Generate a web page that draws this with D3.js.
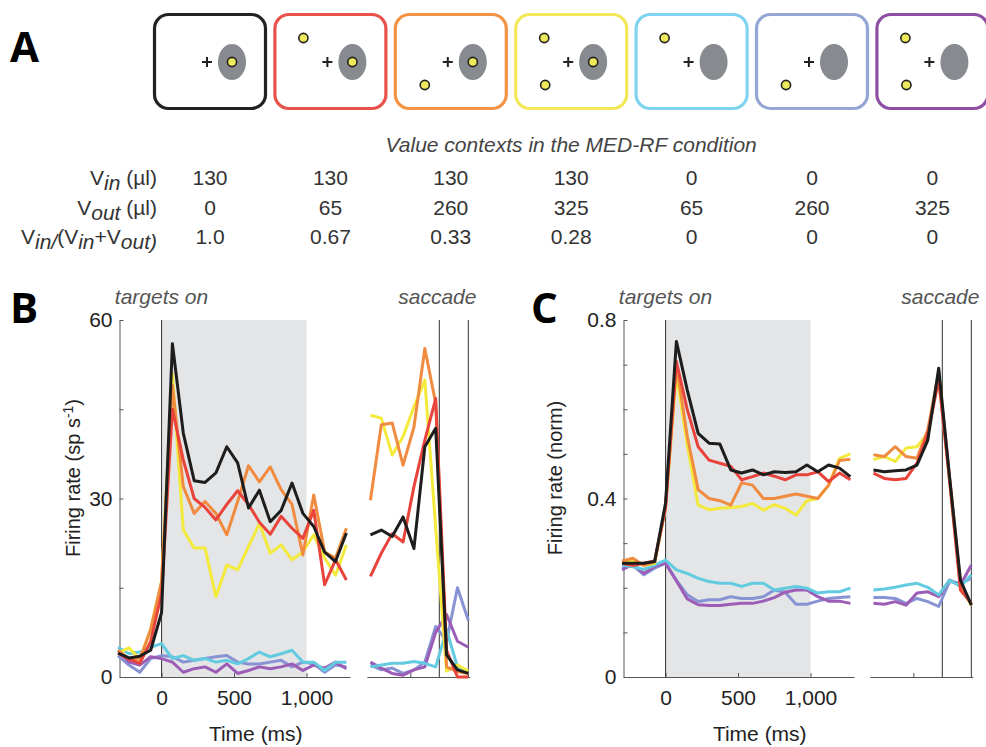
<!DOCTYPE html>
<html>
<head>
<meta charset="utf-8">
<script src="https://cdn.jsdelivr.net/npm/d3@7"></script>
<style>
  body { margin: 0; background: #fff; }
  svg { display: block; font-family: 'Liberation Sans', Arial, sans-serif; }
</style>
</head>
<body>
<svg id="fig" width="986" height="747"></svg>
<script>
// panel A: the seven value contexts
const ctxColors = ['#222222', '#e8524a', '#f29345', '#f3e75a', '#80d3ef', '#96a6d4', '#8d4ea3'];
const ctxInRF = [1, 1, 1, 1, 0, 0, 0];
const ctxUpper = [0, 1, 0, 1, 1, 0, 1];
const ctxLower = [0, 0, 1, 1, 0, 1, 1];
const vinVals = ['130', '130', '130', '130', '0', '0', '0'];
const voutVals = ['0', '65', '260', '325', '65', '260', '325'];
const ratioVals = ['1.0', '0.67', '0.33', '0.28', '0', '0', '0'];

// time bins (ms)
const tOn = [-300, -225, -150, -75, 0, 75, 150, 225, 300, 375, 450, 525, 600, 675, 750, 825, 900, 975, 1050, 1125, 1200, 1275];
const tSac = [-475, -400, -325, -250, -175, -100, -25, 50, 125, 200];

// panel B, firing rate (sp/s), aligned to targets on
const bOnBlack = [4, 3.2, 3.5, 4.5, 10.8, 56, 41, 33, 32.7, 34.3, 38.7, 36, 28.4, 31.4, 26.1, 28, 32.6, 27.5, 25.3, 21, 19.4, 24.2];
const bOnRed = [4, 3, 2.3, 6, 14, 45, 36.5, 30, 28.5, 26.4, 29, 31.3, 29, 26, 24, 27, 25, 23.3, 28, 15.5, 19.7, 16.3];
const bOnOrange = [4.5, 3, 3, 8, 16, 49, 32, 27.5, 29.5, 27.5, 23.9, 29.5, 35.5, 32.8, 35.3, 31.5, 29, 20.5, 30.6, 21, 20, 25];
const bOnYellow = [4, 4.9, 3, 8, 16, 51, 24.7, 21.7, 21.7, 13.5, 18.8, 18, 21.9, 25.8, 20.8, 22.2, 19.7, 21, 23.9, 20, 17.1, 22.2];
const bOnCyan = [5, 3.9, 4.2, 5, 5.6, 3.1, 3.6, 2.8, 3.1, 2.5, 2.8, 2.2, 3.1, 4.2, 3.4, 3.9, 4.5, 2.5, 2.5, 1.1, 2.5, 2.5];
const bOnLavender = [3.6, 2, 0.8, 3.1, 3.6, 3.4, 2.5, 2.8, 3.1, 3.4, 3.6, 2.5, 2.2, 2.2, 2.5, 2.8, 1.7, 2.5, 2.2, 0.8, 2, 1.7];
const bOnPurple = [4.5, 2.5, 2, 3.4, 3.1, 2.5, 0.8, 1.4, 1.7, 0.8, 2.2, 0.6, 1.1, 1.7, 1.4, 1.7, 2.2, 1.1, 2, 1.5, 2.5, 1.4];

// panel B, aligned to saccade
const bSacBlack = [23.9, 24.7, 23.6, 26.9, 21.6, 38.7, 41.8, 3.7, 1.2, 0.6];
const bSacRed = [16.9, 20.8, 24.1, 22.7, 32, 39.8, 46.8, 4.5, 0, 0];
const bSacOrange = [29.7, 42.4, 42.7, 35.6, 42, 55.2, 46, 1.7, 0.9, 0.6];
const bSacYellow = [44, 43.5, 37.3, 40.4, 45.4, 49.9, 25, 1, 2, 1];
const bSacCyan = [1.7, 2, 2.3, 2.3, 2.6, 2.3, 1.7, 7.9, 1.7, 0.6];
const bSacLavender = [2, 1.2, 1.5, 0.6, 1.2, 2.5, 8.5, 6, 15, 9.5];
const bSacPurple = [2.5, 1.5, 0.6, 0.3, 1.2, 1.7, 7.5, 10.5, 6, 5];

// panel C, normalized rate, aligned to targets on
const cOnBlack = [0.255, 0.255, 0.255, 0.259, 0.39, 0.752, 0.643, 0.546, 0.524, 0.522, 0.464, 0.457, 0.464, 0.453, 0.46, 0.458, 0.46, 0.475, 0.46, 0.475, 0.468, 0.449];
const cOnRed = [0.255, 0.25, 0.255, 0.26, 0.38, 0.707, 0.599, 0.516, 0.486, 0.479, 0.472, 0.442, 0.449, 0.457, 0.45, 0.442, 0.453, 0.453, 0.46, 0.438, 0.457, 0.442];
const cOnOrange = [0.26, 0.266, 0.25, 0.258, 0.38, 0.7, 0.539, 0.42, 0.4, 0.395, 0.385, 0.435, 0.43, 0.4, 0.4, 0.405, 0.41, 0.405, 0.4, 0.43, 0.485, 0.488];
const cOnYellow = [0.255, 0.26, 0.25, 0.255, 0.38, 0.68, 0.52, 0.385, 0.375, 0.378, 0.38, 0.382, 0.389, 0.374, 0.386, 0.378, 0.363, 0.395, 0.4, 0.43, 0.49, 0.5];
const cOnCyan = [0.251, 0.247, 0.241, 0.251, 0.262, 0.24, 0.232, 0.221, 0.214, 0.21, 0.21, 0.203, 0.21, 0.21, 0.195, 0.199, 0.203, 0.199, 0.188, 0.191, 0.191, 0.199];
const cOnLavender = [0.244, 0.25, 0.229, 0.244, 0.255, 0.217, 0.184, 0.169, 0.173, 0.173, 0.18, 0.176, 0.176, 0.18, 0.195, 0.19, 0.163, 0.163, 0.17, 0.176, 0.178, 0.18];
const cOnPurple = [0.24, 0.253, 0.232, 0.248, 0.255, 0.215, 0.175, 0.162, 0.16, 0.16, 0.163, 0.165, 0.165, 0.17, 0.178, 0.19, 0.195, 0.195, 0.18, 0.17, 0.17, 0.165];

// panel C, aligned to saccade
const cSacBlack = [0.464, 0.46, 0.462, 0.464, 0.475, 0.531, 0.692, 0.448, 0.217, 0.161];
const cSacRed = [0.457, 0.445, 0.442, 0.445, 0.479, 0.546, 0.666, 0.44, 0.195, 0.165];
const cSacOrange = [0.498, 0.494, 0.516, 0.494, 0.49, 0.554, 0.684, 0.445, 0.21, 0.163];
const cSacYellow = [0.487, 0.494, 0.483, 0.513, 0.516, 0.546, 0.673, 0.44, 0.205, 0.16];
const cSacCyan = [0.195, 0.197, 0.201, 0.206, 0.21, 0.201, 0.184, 0.217, 0.203, 0.229];
const cSacLavender = [0.178, 0.178, 0.176, 0.165, 0.176, 0.169, 0.158, 0.214, 0.21, 0.221];
const cSacPurple = [0.165, 0.163, 0.169, 0.161, 0.188, 0.191, 0.18, 0.217, 0.206, 0.251];

const bTicks = [0, 15, 30, 45, 60];
const bTickLabels = [0, 30, 60];
const cTicks = [0, 0.1, 0.2, 0.3, 0.4, 0.5, 0.6, 0.7, 0.8];
const cTickLabels = [0, 0.4, 0.8];
const timeTicks = [0, 500, 1000];

const lineColors = {
  black: '#1d1d1d', red: '#e8443c', orange: '#f08b3f', yellow: '#f3ea3c',
  cyan: '#62cbe0', lavender: '#8893d4', purple: '#9c5db6'
};
const drawOrder = ['lavender', 'purple', 'cyan', 'yellow', 'orange', 'red', 'black'];

const svg = d3.select('#fig');

// ---------- panel A ----------
const boxX = i => 153 + i * 120.4;
const ctx = svg.append('g');

ctxColors.forEach((col, i) => {
  const g = ctx.append('g').attr('transform', `translate(${boxX(i)},13)`);
  g.append('rect').attr('x', 1.5).attr('y', 1.5).attr('width', 111).attr('height', 94)
    .attr('rx', 14).attr('fill', '#fff').attr('stroke', col).attr('stroke-width', 3.2);
  g.append('ellipse').attr('cx', 79).attr('cy', 49).attr('rx', 14).attr('ry', 18).attr('fill', '#878b8f');
  g.append('path').attr('d', 'M49,49H59M54,44V54').attr('stroke', '#222').attr('stroke-width', 2);
  const dots = [];
  if (ctxInRF[i]) dots.push([79, 49]);
  if (ctxUpper[i]) dots.push([30, 25]);
  if (ctxLower[i]) dots.push([31, 72]);
  g.selectAll('circle').data(dots).join('circle')
    .attr('cx', d => d[0]).attr('cy', d => d[1]).attr('r', 4.6)
    .attr('fill', '#eee95a').attr('stroke', '#222').attr('stroke-width', 1.6);
});

svg.append('text').attr('x', boxX(3) + 57).attr('y', 152).attr('text-anchor', 'middle')
  .attr('font-size', 21).attr('font-style', 'italic').attr('fill', '#444')
  .text('Value contexts in the MED-RF condition');

function richLabel(parts, x, y) {
  const t = svg.append('text').attr('x', x).attr('y', y).attr('text-anchor', 'end')
    .attr('font-size', 21).attr('fill', '#333');
  let low = false;
  parts.forEach(p => {
    const sub = p[1] === 'sub';
    const s = t.append('tspan').text(p[0]);
    if (sub && !low) s.attr('dy', 5);
    if (!sub && low) s.attr('dy', -5);
    if (sub) s.attr('font-style', 'italic');
    low = sub;
  });
}

const rowY = [185, 215, 244];
richLabel([['V'], ['in', 'sub'], [' (µl)']], 157, rowY[0]);
richLabel([['V'], ['out', 'sub'], [' (µl)']], 157, rowY[1]);
richLabel([['V'], ['in/', 'sub'], ['(V'], ['in', 'sub'], ['+V'], ['out)', 'sub']], 157, rowY[2]);

[vinVals, voutVals, ratioVals].forEach((vals, r) => {
  svg.append('g').selectAll('text').data(vals).join('text')
    .attr('x', (d, i) => boxX(i) + 57).attr('y', rowY[r])
    .attr('text-anchor', 'middle').attr('font-size', 21).attr('fill', '#333')
    .text(d => d);
});

// ---------- panels B and C ----------
function panel(p) {
  const g = svg.append('g');
  const y = d3.scaleLinear().domain([0, p.yMax]).range([677, 320]);
  const xOn = d3.scaleLinear().domain([-290, 1300]).range([p.x0, p.x0 + 230.5]);
  const xSac = d3.scaleLinear().domain([-500, 210]).range([p.xs0, p.xs0 + 103]);

  g.append('rect').attr('x', xOn(0)).attr('y', y(p.yMax))
    .attr('width', xOn(1000) - xOn(0)).attr('height', y(0) - y(p.yMax)).attr('fill', '#e4e5e7');

  const yAxis = g.append('g').attr('transform', `translate(${xOn(-290)},0)`)
    .call(d3.axisLeft(y).tickValues(p.ticks).tickSize(-4).tickSizeOuter(0).tickPadding(7)
      .tickFormat(d => p.tickLabels.includes(d) ? p.fmt(d) : ''));
  const xAxis = g.append('g').attr('transform', 'translate(0,677)')
    .call(d3.axisBottom(xOn).tickValues(timeTicks).tickSize(-4).tickSizeOuter(0).tickPadding(13)
      .tickFormat(d3.format(',')));
  const sAxis = g.append('g').attr('transform', 'translate(0,677)')
    .call(d3.axisBottom(xSac).tickValues([-200]).tickSize(-4).tickSizeOuter(0).tickFormat(''));

  [yAxis, xAxis, sAxis].forEach(a => {
    a.selectAll('path, line').attr('stroke', '#555');
    a.selectAll('text').attr('font-size', 21).attr('fill', '#222')
      .attr('font-family', "'Liberation Sans', Arial, sans-serif");
  });

  g.selectAll('line.event').data([xOn(0), xSac(0), xSac(200)]).join('line').attr('class', 'event')
    .attr('x1', d => d).attr('x2', d => d).attr('y1', y(p.yMax)).attr('y2', y(0))
    .attr('stroke', '#444').attr('stroke-width', 1.1);

  const lineOn = d3.line().x((d, i) => xOn(tOn[i])).y(d => y(d));
  const lineSac = d3.line().x((d, i) => xSac(tSac[i])).y(d => y(d));

  drawOrder.forEach(k => {
    g.append('path').attr('d', lineOn(p.on[k])).attr('fill', 'none')
      .attr('stroke', lineColors[k]).attr('stroke-width', 3).attr('stroke-linejoin', 'round');
    g.append('path').attr('d', lineSac(p.sac[k])).attr('fill', 'none')
      .attr('stroke', lineColors[k]).attr('stroke-width', 3).attr('stroke-linejoin', 'round');
  });

  g.append('text').attr('x', xOn(0)).attr('y', 304).attr('text-anchor', 'middle')
    .attr('font-size', 21).attr('font-style', 'italic').attr('fill', '#555').text('targets on');
  g.append('text').attr('x', xSac(0) - 2).attr('y', 304).attr('text-anchor', 'middle')
    .attr('font-size', 21).attr('font-style', 'italic').attr('fill', '#555').text('saccade');

  g.append('text').attr('x', xOn(650)).attr('y', 741).attr('text-anchor', 'middle')
    .attr('font-size', 21).attr('fill', '#222').text('Time (ms)');

  const yl = g.append('text').attr('transform', `translate(${p.ylabX},478) rotate(-90)`)
    .attr('text-anchor', 'middle').attr('font-size', 20).attr('fill', '#222');
  yl.append('tspan').text(p.ylab[0]);
  if (p.ylab[1]) {
    yl.append('tspan').attr('dy', -7).attr('font-size', 14).text(p.ylab[1]);
    yl.append('tspan').attr('dy', 7).text(p.ylab[2]);
  }

  svg.append('text').attr('x', p.letterX).attr('y', 323).attr('font-family', "'Open Sans', sans-serif")
    .attr('font-weight', 700).attr('font-size', 42).attr('fill', '#000').text(p.letter);
}

panel({
  letter: 'B', letterX: 10, x0: 119.5, xs0: 366.8, yMax: 60, ylabX: 80,
  ticks: bTicks, tickLabels: bTickLabels, fmt: d => String(d),
  ylab: ['Firing rate (sp s', '-1', ')'],
  on: { black: bOnBlack, red: bOnRed, orange: bOnOrange, yellow: bOnYellow, cyan: bOnCyan, lavender: bOnLavender, purple: bOnPurple },
  sac: { black: bSacBlack, red: bSacRed, orange: bSacOrange, yellow: bSacYellow, cyan: bSacCyan, lavender: bSacLavender, purple: bSacPurple }
});

panel({
  letter: 'C', letterX: 531, x0: 623.5, xs0: 869.8, yMax: 0.8, ylabX: 562,
  ticks: cTicks, tickLabels: cTickLabels, fmt: d => d === 0 ? '0' : d.toFixed(1),
  ylab: ['Firing rate (norm)'],
  on: { black: cOnBlack, red: cOnRed, orange: cOnOrange, yellow: cOnYellow, cyan: cOnCyan, lavender: cOnLavender, purple: cOnPurple },
  sac: { black: cSacBlack, red: cSacRed, orange: cSacOrange, yellow: cSacYellow, cyan: cSacCyan, lavender: cSacLavender, purple: cSacPurple }
});

svg.append('text').attr('x', 10).attr('y', 62).attr('font-family', "'Open Sans', sans-serif")
  .attr('font-weight', 700).attr('font-size', 42).attr('fill', '#000').text('A');
</script>
</body>
</html>
